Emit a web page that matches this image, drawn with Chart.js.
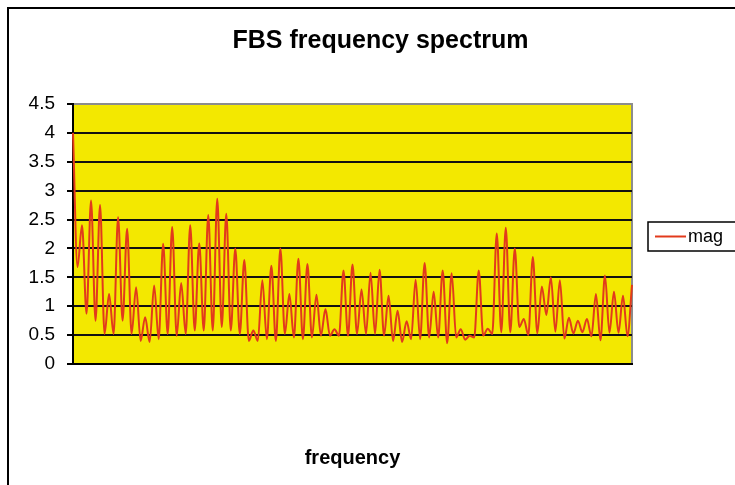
<!DOCTYPE html>
<html>
<head>
<meta charset="utf-8">
<script src="https://cdn.jsdelivr.net/npm/chart.js@4/dist/chart.umd.min.js"></script>
<style>
  html, body { margin: 0; padding: 0; background: #fff; }
  #wrap { width: 735px; height: 485px; }
</style>
</head>
<body>
<div id="wrap"><canvas id="spectrum"></canvas></div>
<script>
// magnitude, peak / trough pairs
const magnitudes = [
    4.0, 1.68, 2.4, 0.87, 2.83, 0.75, 2.75, 0.52, 1.21, 0.52,
    2.54, 0.75, 2.34, 0.52, 1.33, 0.40, 0.81, 0.38, 1.36, 0.43,
    2.08, 0.52, 2.37, 0.49, 1.4, 0.52, 2.4, 0.58, 2.09, 0.58,
    2.58, 0.58, 2.86, 0.64, 2.6, 0.58, 2.0, 0.52, 1.8, 0.40,
    0.58, 0.40, 1.45, 0.43, 1.7, 0.40, 2.0, 0.52, 1.21, 0.46,
    1.82, 0.43, 1.73, 0.46, 1.2, 0.49, 0.95, 0.49, 0.6, 0.49,
    1.62, 0.49, 1.72, 0.52, 1.29, 0.52, 1.58, 0.52, 1.63, 0.49,
    1.18, 0.40, 0.92, 0.38, 0.74, 0.43, 1.46, 0.43, 1.75, 0.46,
    1.25, 0.46, 1.62, 0.36, 1.57, 0.46, 0.6, 0.42, 0.49, 0.46,
    1.62, 0.49, 0.61, 0.52, 2.26, 0.55, 2.36, 0.55, 2.0, 0.64,
    0.78, 0.5, 1.85, 0.53, 1.34, 0.85, 1.5, 0.56, 1.45, 0.44,
    0.8, 0.53, 0.75, 0.55, 0.78, 0.48, 1.21, 0.41, 1.53, 0.54,
    1.25, 0.54, 1.18, 0.48, 1.37
];
const frequencies = magnitudes.map((_, i) => i + 1);
const yTicks = [0, 0.5, 1, 1.5, 2, 2.5, 3, 3.5, 4, 4.5];

const FONT = '"Liberation Sans", Arial, sans-serif';

const frame = {
    id: 'frame',
    beforeDraw(chart) {
        const { ctx, chartArea: a } = chart;
        ctx.save();
        ctx.fillStyle = '#fff';
        ctx.fillRect(0, 0, chart.width, chart.height);
        // outer chart border
        ctx.strokeStyle = '#000';
        ctx.lineWidth = 2;
        ctx.beginPath();
        ctx.moveTo(8, chart.height + 2);
        ctx.lineTo(8, 8);
        ctx.lineTo(chart.width + 2, 8);
        ctx.stroke();
        // plot area
        ctx.fillStyle = '#f3e800';
        ctx.fillRect(a.left, a.top, a.right - a.left, a.bottom - a.top);
        ctx.strokeStyle = '#8c8c8c';
        ctx.lineWidth = 2;
        ctx.strokeRect(a.left, a.top, a.right - a.left, a.bottom - a.top);
        ctx.restore();
    },
    afterDraw(chart) {
        // legend box, partly off the right edge like the original
        const { ctx } = chart;
        const ds = chart.data.datasets[0];
        ctx.save();
        ctx.strokeStyle = '#000';
        ctx.lineWidth = 1.5;
        ctx.strokeRect(648, 222, 100, 29);
        ctx.strokeStyle = ds.borderColor;
        ctx.lineWidth = 2;
        ctx.beginPath();
        ctx.moveTo(655, 236.5);
        ctx.lineTo(686, 236.5);
        ctx.stroke();
        ctx.fillStyle = '#000';
        ctx.font = '18px ' + FONT;
        ctx.textBaseline = 'middle';
        ctx.fillText(ds.label, 688, 237);
        ctx.restore();
    }
};

new Chart(document.getElementById('spectrum'), {
    type: 'line',
    data: {
        labels: frequencies,
        datasets: [{
            label: 'mag',
            data: magnitudes,
            borderColor: '#e23a1c',
            borderWidth: 2,
            pointRadius: 0,
            cubicInterpolationMode: 'monotone',
            fill: false
        }]
    },
    options: {
        responsive: true,
        maintainAspectRatio: false,
        animation: false,
        layout: { padding: { left: 26, right: 0, top: 0, bottom: 0 } },
        plugins: {
            legend: { display: false },
            tooltip: { enabled: false },
            title: {
                display: true,
                text: 'FBS frequency spectrum',
                color: '#000',
                font: { family: FONT, size: 25, weight: 'bold' },
                padding: { top: 26, bottom: 48 }
            }
        },
        scales: {
            x: {
                ticks: { display: false },
                grid: { display: false, drawTicks: false },
                border: { display: true, color: '#000', width: 2 },
                title: {
                    display: true,
                    text: 'frequency',
                    color: '#000',
                    font: { family: FONT, size: 20, weight: 'bold' },
                    padding: { top: 0, bottom: 15 }
                },
                afterFit(scale) { scale.height = 121; }
            },
            y: {
                min: 0,
                max: 4.5,
                afterBuildTicks(scale) {
                    scale.ticks = yTicks.map(v => ({ value: v }));
                },
                ticks: {
                    color: '#000',
                    padding: 12,
                    font: { family: FONT, size: 19 },
                    callback: v => String(v)
                },
                grid: {
                    color: ctx => ctx.tick && ctx.tick.value === 4.5 ? '#8c8c8c' : '#111',
                    lineWidth: 2,
                    tickLength: 6,
                    tickColor: '#000'
                },
                border: { display: true, color: '#000', width: 2 },
                afterFit(scale) { scale.width = 47; }
            },
            // empty right-hand scale: keeps room for the legend box
            side: {
                position: 'right',
                min: 0,
                max: 1,
                ticks: { display: false },
                grid: { display: false, drawTicks: false },
                border: { display: false },
                afterFit(scale) { scale.width = 103; }
            }
        }
    },
    plugins: [frame]
});
</script>
</body>
</html>
